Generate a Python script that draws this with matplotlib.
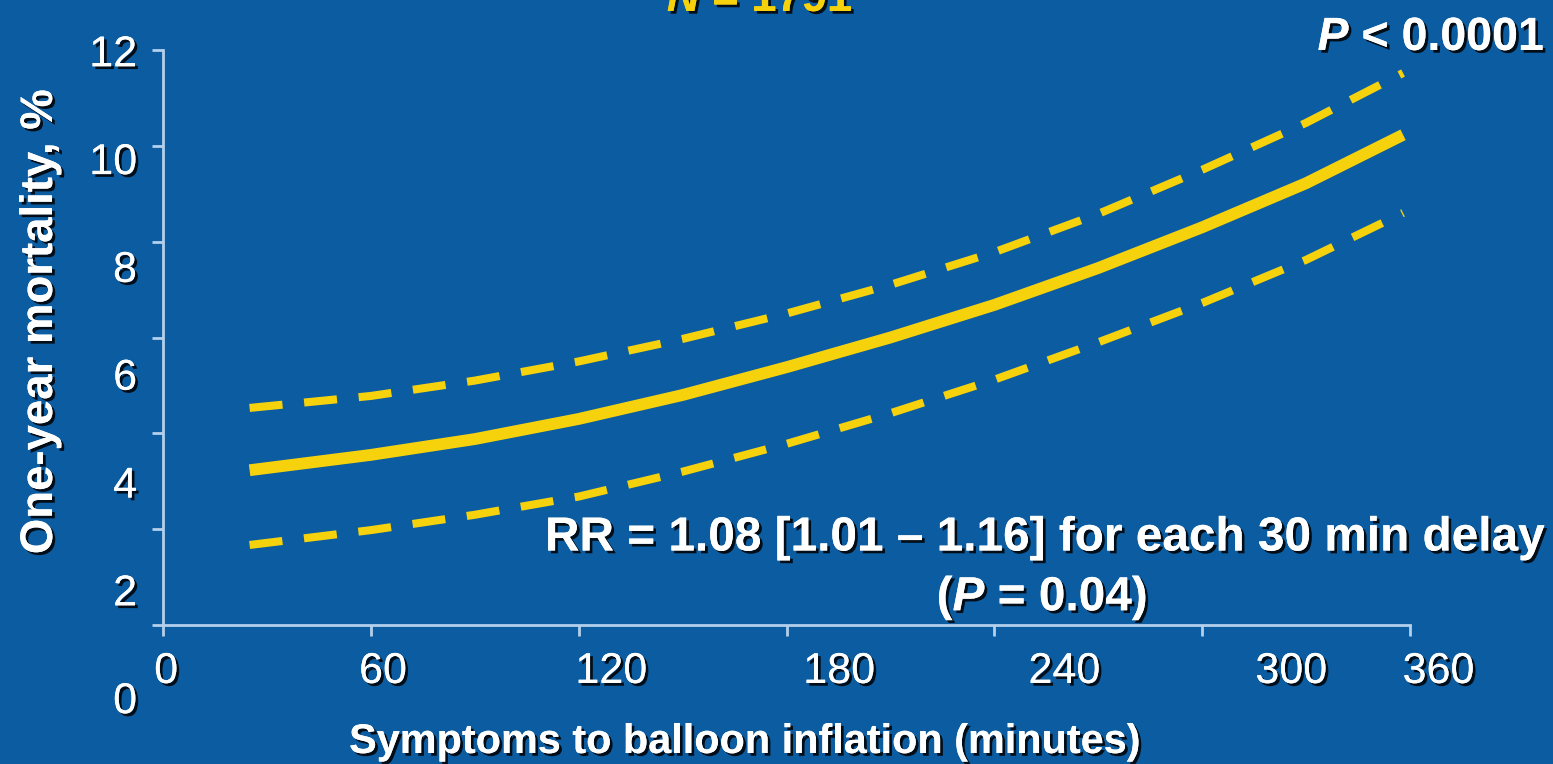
import matplotlib.pyplot as plt
import matplotlib.patheffects as pe

# curve values (minutes -> one-year mortality %)
minutes = [25, 60, 90, 120, 150, 180, 210, 240, 270, 300, 330, 358]
mortality = [3.23, 3.55, 3.88, 4.30, 4.80, 5.38, 6.00, 6.68, 7.45, 8.30, 9.22, 10.23]
upper_ci = [4.53, 4.78, 5.10, 5.50, 5.97, 6.50, 7.10, 7.78, 8.58, 9.50, 10.48, 11.52]
lower_ci = [1.67, 1.98, 2.30, 2.68, 3.20, 3.78, 4.42, 5.12, 5.90, 6.72, 7.62, 8.60]

xticks = [0, 60, 120, 180, 240, 300, 360]
yticks = [0, 2, 4, 6, 8, 10, 12]

# tick labels in the original sit a bit off their tick marks
xlabel_at = [0.9, 63.5, 129.4, 195.2, 260.2, 325.7, 368.2]
ylabel_at = [-1.61, 0.64, 2.89, 5.14, 7.39, 9.64, 11.89]

bg = '#0b5ca0'
yellow = '#f6d20c'
axis_col = '#b4d0ec'

plt.rcParams['font.family'] = ['Liberation Sans', 'DejaVu Sans']
plt.rcParams['mathtext.fontset'] = 'custom'
plt.rcParams['mathtext.it'] = 'Liberation Sans:italic:bold'
plt.rcParams['mathtext.rm'] = 'Liberation Sans:bold'

shadow = [pe.withSimplePatchShadow(offset=(2, -2), shadow_rgbFace='black', alpha=0.85), pe.Normal()]

fig = plt.figure(figsize=(15.53, 7.64), dpi=100, facecolor=bg)
ax = fig.add_axes([163 / 1553, 139 / 764, 1247 / 1553, 575 / 764])
ax.set_facecolor(bg)

ax.plot(minutes, mortality, color=yellow, lw=8.5, solid_capstyle='butt', solid_joinstyle='round')
for ci in (upper_ci, lower_ci):
    line, = ax.plot(minutes, ci, color=yellow, lw=5.8, dash_capstyle='butt')
    line.set_dashes([4.1, 2.7])

ax.set_xlim(0, 360)
ax.set_ylim(0, 12)
for s in ('top', 'right'):
    ax.spines[s].set_visible(False)
for s in ('left', 'bottom'):
    ax.spines[s].set_color(axis_col)
    ax.spines[s].set_linewidth(2)
ax.set_xticks(xticks)
ax.set_yticks(yticks)
ax.set_xticklabels([])
ax.set_yticklabels([])
ax.tick_params(colors=axis_col, length=8, width=2, direction='out')

for v, pos in zip(xticks, xlabel_at):
    ax.text(pos, -0.98, str(v), color='white', fontsize=31, ha='center', va='center',
            clip_on=False, path_effects=shadow)
for v, pos in zip(yticks, ylabel_at):
    ax.text(-7.5, pos, str(v), color='white', fontsize=31, ha='right', va='center',
            clip_on=False, path_effects=shadow)


def fit(t, size_px, vertical=False):
    # scale a text so its width (or height) matches the original
    bb = t.get_window_extent(fig.canvas.get_renderer())
    cur = bb.height if vertical else bb.width
    t.set_fontsize(t.get_fontsize() * size_px / cur)


bold = dict(color='white', fontsize=30, fontweight='bold', ha='center', va='center',
            path_effects=shadow)

t = fig.text(40 / 1553, 1 - 322 / 764, 'One-year mortality, %', rotation=90, **bold)
fit(t, 465, vertical=True)
t = fig.text(744 / 1553, 1 - 742 / 764, 'Symptoms to balloon inflation (minutes)', **bold)
fit(t, 792)
rr = fig.text(1045 / 1553, 1 - 538 / 764, 'RR = 1.08 [1.01 \u2013 1.16] for each 30 min delay', **bold)
fit(rr, 1000)
t = fig.text(1042 / 1553, 1 - 598 / 764, '($\\mathit{P}$ = 0.04)', **bold)
t.set_fontsize(rr.get_fontsize())
t = fig.text(1431 / 1553, 1 - 38 / 764, '$\\mathit{P}$ < 0.0001', **bold)
fit(t, 227)

# title is cut off at the top edge of the original
t = fig.text(760 / 1553, 1 - 11 / 764, '$\\mathit{N}$ = 1791', color=yellow, fontsize=30,
             fontweight='bold', ha='center', va='baseline', path_effects=shadow)
fit(t, 186)

fig.savefig('out.png', dpi=100, facecolor=bg)
